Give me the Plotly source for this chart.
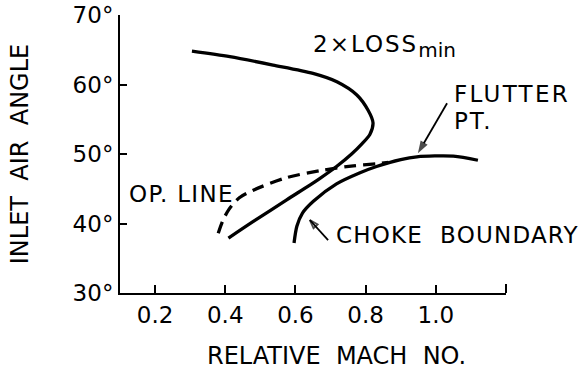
import plotly.graph_objects as go

# ---- data ----
loss_x = [0.305, 0.413, 0.536, 0.650, 0.718, 0.775, 0.807, 0.821, 0.812, 0.790, 0.760, 0.717, 0.670, 0.575, 0.480, 0.409]
loss_y = [64.8, 64.0, 62.8, 61.6, 60.4, 58.5, 56.3, 54.5, 52.8, 51.5, 50.0, 48.2, 46.5, 43.4, 40.3, 37.9]

op_x = [0.380, 0.392, 0.410, 0.440, 0.480, 0.575, 0.670, 0.765, 0.831, 0.865]
op_y = [38.6, 40.3, 42.0, 43.7, 44.8, 46.6, 47.6, 48.3, 48.6, 48.8]

choke_x = [0.596, 0.604, 0.620, 0.651, 0.717, 0.784, 0.831, 0.900, 0.946, 1.050, 1.120]
choke_y = [37.2, 39.6, 41.5, 43.2, 45.7, 47.3, 48.2, 49.2, 49.6, 49.7, 49.1]

# arrows: [tail, head]
flutter_arrow_x = [1.032, 0.949]
flutter_arrow_y = [57.3, 50.1]
choke_arrow_x = [0.693, 0.641]
choke_arrow_y = [37.6, 40.5]

x_range = [0.1, 1.2]
x_tick_vals = [0.2, 0.4, 0.6, 0.8, 1.0]
x_tick_text = ["0.2", "0.4", "0.6", "0.8", "1.0"]
x_end_tick = 1.2
y_range = [30, 70]
y_tick_vals = [30, 40, 50, 60, 70]
y_tick_text = ["30°", "40°", "50°", "60°", "70°"]

FONT = "DejaVu Sans"
LW = 3.3


def spaced(txt, px):
    return f'<span style="letter-spacing:{px}px">{txt}</span>'


fig = go.Figure()
fig.add_trace(go.Scatter(x=loss_x, y=loss_y, mode="lines",
                         line=dict(color="black", width=LW, shape="spline", smoothing=0.8),
                         showlegend=False, hoverinfo="skip"))
fig.add_trace(go.Scatter(x=op_x, y=op_y, mode="lines",
                         line=dict(color="black", width=LW, shape="spline", smoothing=0.8, dash="12px,7px"),
                         showlegend=False, hoverinfo="skip"))
fig.add_trace(go.Scatter(x=choke_x, y=choke_y, mode="lines",
                         line=dict(color="black", width=LW, shape="spline", smoothing=0.8),
                         showlegend=False, hoverinfo="skip"))
fig.add_trace(go.Scatter(x=flutter_arrow_x, y=flutter_arrow_y, mode="lines+markers",
                         line=dict(color="black", width=1.8),
                         marker=dict(symbol="arrow", size=[0, 13], angleref="previous", color="black",
                                     line=dict(width=0)),
                         showlegend=False, hoverinfo="skip"))
fig.add_trace(go.Scatter(x=choke_arrow_x, y=choke_arrow_y, mode="lines+markers",
                         line=dict(color="black", width=1.8),
                         marker=dict(symbol="arrow-open", size=[0, 9], angleref="previous", color="black",
                                     line=dict(width=1.8, color="black")),
                         showlegend=False, hoverinfo="skip"))

# upward tick at the right end of the x axis (paper-referenced so it is not clipped)
end_frac = (x_end_tick - x_range[0]) / (x_range[1] - x_range[0])
fig.add_shape(type="line", xref="paper", yref="y", x0=end_frac, x1=end_frac,
              ysizemode="pixel", yanchor=y_range[0], y0=0, y1=9,
              line=dict(color="black", width=2))

tf = dict(family=FONT, size=23, color="black")
annos = [
    dict(x=0.645, y=65.4,
         text=spaced("2×LOSS", 2) + '<sub><span style="font-size:20px">min</span></sub>',
         xanchor="left", yanchor="middle", showarrow=False, font=tf),
    dict(x=1.047, y=58.7, text=spaced("FLUTTER", 2.3), xanchor="left", yanchor="middle", showarrow=False, font=tf),
    dict(x=1.047, y=54.7, text=spaced("PT.", 2), xanchor="left", yanchor="middle", showarrow=False, font=tf),
    dict(x=0.711, y=38.3, text=spaced("CHOKE  BOUNDARY", 1.2), xanchor="left", yanchor="middle", showarrow=False, font=tf),
    dict(x=0.121, y=44.3, text=spaced("OP. LINE", 1.3), xanchor="left", yanchor="middle", showarrow=False, font=tf),
    dict(x=0.56, y=-0.227, xref="paper", yref="paper", text="RELATIVE  MACH  NO.",
         xanchor="center", yanchor="middle", showarrow=False, font=dict(family=FONT, size=24, color="black")),
]
fig.update_layout(annotations=annos)

fig.update_layout(
    width=580, height=371,
    margin=dict(l=120, r=74, t=15, b=78),
    paper_bgcolor="white", plot_bgcolor="white",
    font=dict(family=FONT, color="black"),
    xaxis=dict(range=x_range, tickvals=x_tick_vals, ticktext=x_tick_text, automargin=False,
               showgrid=False, zeroline=False, showline=True, linecolor="black", linewidth=2,
               ticks="inside", ticklen=8, tickwidth=2, tickcolor="black",
               tickfont=dict(family=FONT, size=23, color="black")),
    yaxis=dict(range=y_range, tickvals=y_tick_vals, ticktext=y_tick_text, automargin=False,
               showgrid=False, zeroline=False, showline=True, linecolor="black", linewidth=2,
               ticks="inside", ticklen=7, tickwidth=2, tickcolor="black",
               tickfont=dict(family=FONT, size=23, color="black"),
               title=dict(text="INLET  AIR  ANGLE", font=dict(family=FONT, size=24, color="black"), standoff=37)),
)

fig.write_html("out.html")
